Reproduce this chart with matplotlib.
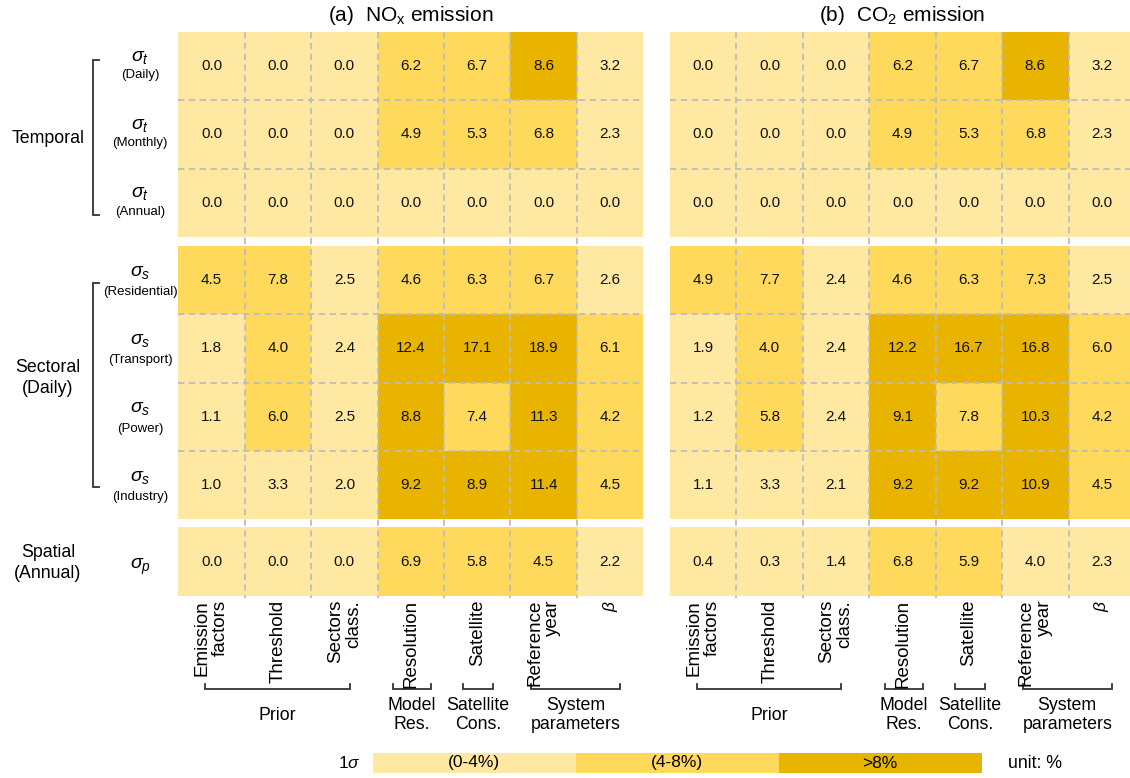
import numpy as np
import matplotlib
matplotlib.use("Agg")
import matplotlib.pyplot as plt
from matplotlib.colors import ListedColormap, BoundaryNorm
from matplotlib.patches import Rectangle

plt.rcParams['font.family'] = ['Liberation Sans', 'DejaVu Sans']
plt.rcParams['mathtext.fontset'] = 'custom'
plt.rcParams['mathtext.rm'] = 'Liberation Sans'
plt.rcParams['mathtext.it'] = 'Liberation Sans:italic'
plt.rcParams['mathtext.bf'] = 'Liberation Sans:bold'

# ---------------------------------------------------------------- data
columns = ["Emission\nfactors", "Threshold", "Sectors\nclass.", "Resolution",
           "Satellite", "Reference\nyear", r"$\beta$"]
row_symbols = [r"$\sigma_t$"] * 3 + [r"$\sigma_s$"] * 4 + [r"$\sigma_p$"]
row_notes = ["(Daily)", "(Monthly)", "(Annual)", "(Residential)",
             "(Transport)", "(Power)", "(Industry)", ""]
groups = ["Temporal", "Sectoral\n(Daily)", "Spatial\n(Annual)"]
group_sizes = [3, 4, 1]
column_groups = ["Prior", "Model\nRes.", "Satellite\nCons.", "System\nparameters"]
panel_titles = [r"(a)  NO$_{\mathregular{x}}$ emission",
                r"(b)  CO$_{\mathregular{2}}$ emission"]

nox_daily = [0.0, 0.0, 0.0, 6.2, 6.7, 8.6, 3.2]
nox_monthly = [0.0, 0.0, 0.0, 4.9, 5.3, 6.8, 2.3]
nox_annual = [0.0, 0.0, 0.0, 0.0, 0.0, 0.0, 0.0]
nox_residential = [4.5, 7.8, 2.5, 4.6, 6.3, 6.7, 2.6]
nox_transport = [1.8, 4.04, 2.4, 12.4, 17.1, 18.9, 6.1]
nox_power = [1.1, 6.0, 2.5, 8.8, 7.4, 11.3, 4.2]
nox_industry = [1.0, 3.3, 2.0, 9.2, 8.9, 11.4, 4.5]
nox_spatial = [0.0, 0.0, 0.0, 6.9, 5.8, 4.5, 2.2]

co2_daily = [0.0, 0.0, 0.0, 6.2, 6.7, 8.6, 3.2]
co2_monthly = [0.0, 0.0, 0.0, 4.9, 5.3, 6.8, 2.3]
co2_annual = [0.0, 0.0, 0.0, 0.0, 0.0, 0.0, 0.0]
co2_residential = [4.9, 7.7, 2.4, 4.6, 6.3, 7.3, 2.5]
co2_transport = [1.9, 4.03, 2.4, 12.2, 16.7, 16.8, 6.0]
co2_power = [1.2, 5.8, 2.4, 9.1, 7.8, 10.3, 4.2]
co2_industry = [1.1, 3.3, 2.1, 9.2, 9.2, 10.9, 4.5]
co2_spatial = [0.4, 0.3, 1.4, 6.8, 5.9, 3.96, 2.3]

level_bounds = [0, 4, 8, 100]
level_colors = ["#FFE8A1", "#FFD95B", "#E8B400"]
level_labels = ["(0-4%)", "(4-8%)", ">8%"]

nox_table = np.array([nox_daily, nox_monthly, nox_annual, nox_residential,
                      nox_transport, nox_power, nox_industry, nox_spatial])
co2_table = np.array([co2_daily, co2_monthly, co2_annual, co2_residential,
                      co2_transport, co2_power, co2_industry, co2_spatial])
tables = [nox_table, co2_table]

# ---------------------------------------------------------------- layout
W, H = 1130, 778
fig = plt.figure(figsize=(W / 100, H / 100), dpi=100)

ROW_PX = 68.33
TOP_PX = 32.0
group_gaps = [0.0, 0.13, 0.12]
group_tops = []
acc = 0.0
for size, gap in zip(group_sizes, group_gaps):
    acc += gap
    group_tops.append(acc)
    acc += size
total_rows = acc
BOTTOM_PX = TOP_PX + total_rows * ROW_PX

panel_lefts = [178.3, 670.0]
COL_PX = 66.43
ncols = len(columns)

cmap = ListedColormap(level_colors)
norm = BoundaryNorm(level_bounds, cmap.N)
grid_kw = dict(color="#BDBDBD", lw=1.3, linestyle=(0, (3.5, 2.5)))

row_tops = []
for gtop, size in zip(group_tops, group_sizes):
    row_tops += [gtop + k for k in range(size)]


def to_px_y(u):
    return TOP_PX + u * ROW_PX


# overlay in pixel coordinates for labels and brackets
ov = fig.add_axes([0, 0, 1, 1])
ov.set_xlim(0, W)
ov.set_ylim(H, 0)
ov.axis("off")

for p, (left, table) in enumerate(zip(panel_lefts, tables)):
    ax = fig.add_axes([left / W, 1 - BOTTOM_PX / H,
                       ncols * COL_PX / W, (BOTTOM_PX - TOP_PX) / H])
    ax.set_xlim(0, ncols)
    ax.set_ylim(total_rows, 0)
    ax.axis("off")

    r0 = 0
    for gtop, size in zip(group_tops, group_sizes):
        block = table[r0:r0 + size]
        ax.pcolormesh(np.arange(ncols + 1), gtop + np.arange(size + 1), block,
                      cmap=cmap, norm=norm)
        for k in range(1, size):
            ax.hlines(gtop + k, 0, ncols, **grid_kw)
        for i in range(size):
            for j in range(ncols):
                ax.text(j + 0.5, gtop + i + 0.5, f"{block[i, j]:.1f}",
                        ha="center", va="center", fontsize=11, color="#111111")
        r0 += size
    ax.vlines(np.arange(1, ncols), 0, total_rows + 0.04, clip_on=False, **grid_kw)

    # panel title
    ov.text(left + ncols * COL_PX / 2, 15, panel_titles[p], ha="center",
            va="center", fontsize=15)

    # column labels
    for j, name in enumerate(columns):
        xc = left + (j + 0.5) * COL_PX
        ov.text(xc, 600, name, rotation=90, ha="center", va="top",
                ma="right", fontsize=13.5 if j < ncols - 1 else 12.5,
                linespacing=1.1)

    # column group brackets
    spans = [(0.40, 2.58), (3.23, 3.81), (4.29, 4.74), (5.31, 6.65)]
    for (a, b), name in zip(spans, column_groups):
        xa, xb = left + a * COL_PX, left + b * COL_PX
        ov.plot([xa, xa, xb, xb], [684, 688.5, 688.5, 684], color="#333333",
                lw=1.3, solid_joinstyle="miter")
        ov.text((xa + xb) / 2, 715, name, ha="center", va="center",
                fontsize=12.8, linespacing=1.15)

# row labels
for i, (sym, note) in enumerate(zip(row_symbols, row_notes)):
    yc = to_px_y(row_tops[i] + 0.5)
    if note:
        off_s, off_n = (-9, 9) if i < 3 else (-8, 12)
        ov.text(140, yc + off_s, sym, ha="center", va="center", fontsize=14)
        ov.text(140, yc + off_n, note, ha="center", va="center", fontsize=9.5)
    else:
        ov.text(140, yc + 5, sym, ha="center", va="center", fontsize=14)

group_label_y = [138.3, 378, 563]
for name, yl in zip(groups, group_label_y):
    ov.text(48, yl, name, ha="center", va="center", fontsize=12.8,
            linespacing=1.25)

# left brackets
for y0, y1 in [(60, 215), (282.7, 486.7)]:
    ov.plot([99, 92.7, 92.7, 99], [y0, y0, y1, y1], color="#333333", lw=1.3,
            solid_joinstyle="miter")

# legend strip
ov.text(349, 763, r"1$\sigma$", ha="center", va="center", fontsize=12.5)
leg_x = 372.7
leg_w = 203.0
for k, (col, lab) in enumerate(zip(level_colors, level_labels)):
    ov.add_patch(Rectangle((leg_x + k * leg_w, 753.3), leg_w, 19.4,
                           facecolor=col, edgecolor="none"))
    ov.text(leg_x + (k + 0.5) * leg_w, 763, lab, ha="center", va="center",
            fontsize=12.5)
ov.text(1008, 763, "unit: %", ha="left", va="center", fontsize=12.8)

fig.savefig("out.png", dpi=100)
